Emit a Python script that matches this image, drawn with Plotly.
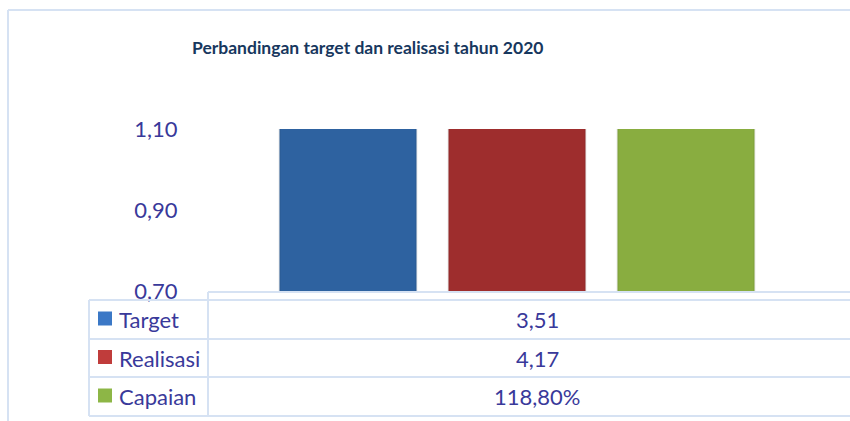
import plotly.graph_objects as go

# Chart data
title_text = "Perbandingan target dan realisasi tahun 2020"
category = ["2020"]
series_names = ["Target", "Realisasi", "Capaian"]
series_values = [3.51, 4.17, 1.188]
series_is_percent = [False, False, True]
y_ticks = [0.70, 0.90, 1.10]

bar_colors = ["#2e62a0", "#9e2d2d", "#89ad40"]
key_colors = ["#3b78c6", "#c03c3b", "#8db646"]
text_color = "#39399a"
line_color = "#d6e2f3"
FONT = "Lato"

W, H = 850, 421


def px(x, y):
    """Convert pixel position to paper coordinates."""
    return x / W, 1 - y / H


def fmt(v, pct):
    if pct:
        return f"{v * 100:.2f}%".replace(".", ",")
    return f"{v:.2f}".replace(".", ",")


fig = go.Figure()
for name, val, col in zip(series_names, series_values, bar_colors):
    fig.add_trace(go.Bar(
        x=category, y=[val], name=name,
        marker=dict(color=col, line=dict(color="rgba(0,0,0,0.08)", width=2)),
        showlegend=False, hoverinfo="skip",
    ))

x0_plot, x1_plot = 209, 850
group_center = 517
bargap = 0.2
slot_px = 169
cat_px = 3 * slot_px / (1 - bargap)
x_range = [-(group_center - x0_plot) / cat_px, (x1_plot - group_center) / cat_px]

y_top, y_bot = 129, 291

fig.update_layout(
    width=W, height=H,
    margin=dict(l=0, r=0, t=0, b=0, pad=0, autoexpand=False),
    paper_bgcolor="white", plot_bgcolor="white",
    separators=",.",
    barmode="group", bargap=bargap, bargroupgap=32 / 169,
    font=dict(family=FONT, color=text_color),
    xaxis=dict(
        type="category", domain=[x0_plot / W, 1], range=x_range,
        showticklabels=False, showgrid=False, zeroline=False, showline=False,
        automargin=False, fixedrange=True,
    ),
    yaxis=dict(
        domain=[1 - y_bot / H, 1 - y_top / H], range=[0.7, 1.1],
        tickvals=y_ticks, tickformat=".2f",
        ticks="outside", ticklen=26, tickcolor="rgba(0,0,0,0)",
        tickfont=dict(family=FONT, size=22, color=text_color),
        showgrid=False, zeroline=False, showline=False, automargin=False,
    ),
)

shapes = []


def hline(y, xa, xb):
    shapes.append(dict(type="line", xref="paper", yref="paper",
                       x0=xa / W, x1=xb / W, y0=1 - y / H, y1=1 - y / H,
                       line=dict(color=line_color, width=2)))


def vline(x, ya, yb):
    shapes.append(dict(type="line", xref="paper", yref="paper",
                       x0=x / W, x1=x / W, y0=1 - ya / H, y1=1 - yb / H,
                       line=dict(color=line_color, width=2)))


# outer chart frame
hline(10, 8, W)
vline(8, 10, H)

# data table grid
hline(292, 208, W)
row_lines = [300, 339, 377, 416]
for y in row_lines:
    hline(y, 89, W)
vline(89, 300, 416)
vline(208, 292, 416)

annotations = [dict(
    text=f"<b>{title_text}</b>", x=px(367, 47)[0], y=px(367, 47)[1],
    xref="paper", yref="paper", xanchor="center", yanchor="middle",
    showarrow=False, font=dict(family=FONT, size=17.5, color="#17375e"),
)]

for i, (name, val, pct, kc) in enumerate(zip(series_names, series_values,
                                              series_is_percent, key_colors)):
    yc = (row_lines[i] + row_lines[i + 1]) / 2
    shapes.append(dict(type="rect", xref="paper", yref="paper",
                       x0=98 / W, x1=112 / W,
                       y0=1 - (yc - 8) / H, y1=1 - (yc + 6) / H,
                       line=dict(width=0), fillcolor=kc))
    annotations.append(dict(
        text=name, x=px(117, yc)[0], y=px(117, yc)[1],
        xref="paper", yref="paper", xanchor="left", yanchor="middle",
        showarrow=False, font=dict(family=FONT, size=22, color=text_color),
    ))
    annotations.append(dict(
        text=fmt(val, pct), x=px(537, yc)[0], y=px(537, yc)[1],
        xref="paper", yref="paper", xanchor="center", yanchor="middle",
        showarrow=False, font=dict(family=FONT, size=22, color=text_color),
    ))

fig.update_layout(shapes=shapes, annotations=annotations)
fig.write_html("out.html")
